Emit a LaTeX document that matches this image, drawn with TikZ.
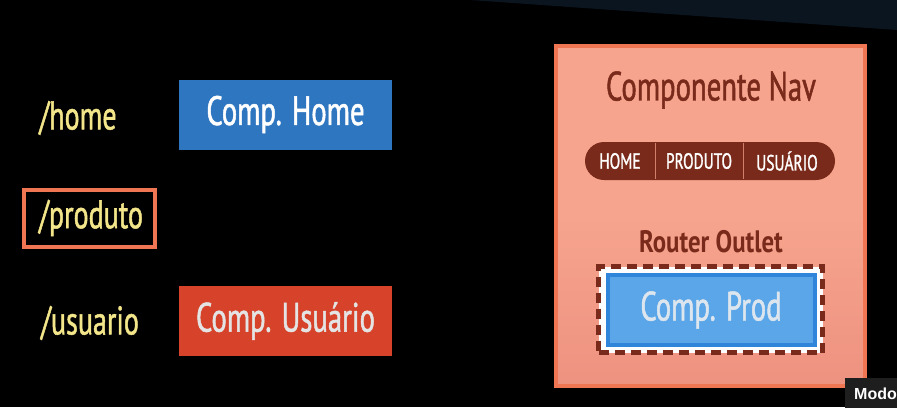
\documentclass[tikz,border=0pt]{standalone}
\usepackage{fontspec}
\setmainfont[FakeStretch=0.7, FakeBold=1.2]{PT Sans}
\newfontfamily\outletfont[FakeStretch=0.8]{PT Sans Bold}
\newfontfamily\modofont{Liberation Sans Bold}
\definecolor{bgband}{HTML}{0B1520}
\definecolor{routeyellow}{HTML}{F3E58A}
\definecolor{homeblue}{HTML}{2F76C0}
\definecolor{userred}{HTML}{D6432A}
\definecolor{panelfill}{HTML}{F6A48E}
\definecolor{panelbottom}{HTML}{EE9280}
\definecolor{panelborder}{HTML}{F07552}
\definecolor{brown}{HTML}{7A2A1A}
\definecolor{prodblue}{HTML}{5AA6E8}
\definecolor{prodborder}{HTML}{2E85DA}
\definecolor{prodtext}{HTML}{DDE6EE}
\definecolor{lighttext}{HTML}{E4E4E4}
\definecolor{modogrey}{HTML}{1E1E1E}
\tikzset{
  routetext/.style={text=routeyellow, font=\fontsize{40}{44}\selectfont, inner sep=0pt},
  compbox/.style={minimum width=213pt, minimum height=70pt, inner sep=0pt, font=\fontsize{41}{44}\selectfont},
  navitem/.style={text=white, font=\fontsize{22}{25}\selectfont, inner sep=0pt},
}
\begin{document}
\begin{tikzpicture}[x=1pt,y=-1pt]
\useasboundingbox (0,0) rectangle (897,407);
\fill[black] (0,0) rectangle (897,407);
\fill[bgband] (470,0) -- (897,0) -- (897,30) -- cycle;

% left routes
\node[routetext] (home) at (78,118) {/home};
\node[routetext] (produto) at (91,218) {/produto};
\draw[panelborder, line width=4pt] (24,190) rectangle (155,247);
\node[routetext] (usuario) at (90,323) {/usuario};

\node[compbox, fill=homeblue, text=white] (comphome) at (285.5,114.5) {Comp. Home};
\node[compbox, fill=userred, text=lighttext] (compuser) at (285.5,321) {Comp. Usuário};

% right panel
\node[draw=panelborder, line width=4pt, top color=panelfill, bottom color=panelbottom, middle color=panelfill, minimum width=309pt, minimum height=340pt, inner sep=0pt] (panel) at (710.5,216) {};
\node[text=brown, font=\fontsize{41}{44}\selectfont, inner sep=0pt] (navtitle) at (711,90) {Componente Nav};

\node[fill=brown, rounded corners=19pt, minimum width=250pt, minimum height=38pt, inner sep=0pt] (navbar) at (710,161) {};
\draw[panelfill!70!brown, line width=1pt] (655,143) -- (655,179);
\draw[panelfill!70!brown, line width=1pt] (743,143) -- (743,179);
\node[navitem] (navhome) at (620,161) {HOME};
\node[navitem] (navprod) at (699,161) {PRODUTO};
\node[navitem] (navuser) at (787,161) {USUÁRIO};

\node[text=brown, font=\outletfont\fontsize{31}{34}\selectfont, inner sep=0pt] (outlet) at (711,242) {Router Outlet};

\node[draw=brown, line width=5pt, dash pattern=on 10pt off 6pt, fill=white!92!prodtext, minimum width=224pt, minimum height=86pt, inner sep=0pt] (outletbox) at (710.5,309.5) {};
\node[draw=prodborder, line width=4pt, fill=prodblue, minimum width=207pt, minimum height=70pt, inner sep=0pt, text=prodtext, font=\fontsize{41}{44}\selectfont] (compprod) at (711,310) {Comp. Prod};

% overlay label
\node[fill=modogrey, text=white, font=\modofont\fontsize{16}{20}\selectfont, anchor=north west, minimum width=56pt, minimum height=32pt, inner sep=0pt, align=left, text width=52pt] (modo) at (845,378) {\hspace*{7pt}Modo};
\end{tikzpicture}
\end{document}
